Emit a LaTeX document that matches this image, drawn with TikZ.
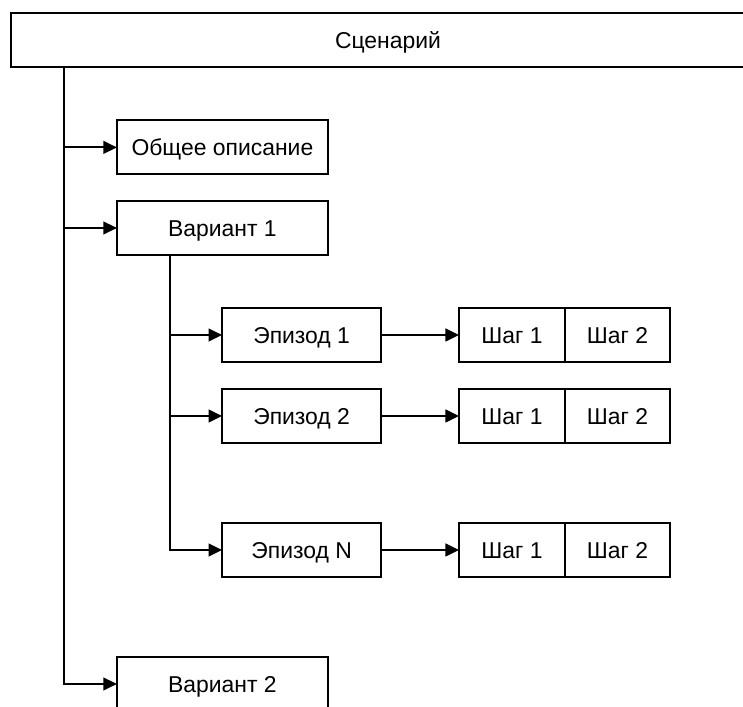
\documentclass[tikz,border=0pt]{standalone}
\usepackage{fontspec}
\setmainfont{Liberation Sans}
\usetikzlibrary{arrows.meta,positioning,calc}

\begin{document}
\begin{tikzpicture}[
    box/.style={draw,line width=0.5mm,minimum height=13.5mm,inner sep=0pt,outer sep=0pt,
                text height=11.5pt,text depth=0pt,font=\fontsize{16.3}{19}\selectfont},
    arr/.style={line width=0.5mm,-{Triangle[length=3.4mm,width=3.2mm]}}
  ]
  %\draw[color=gray,step=1mm, help lines,opacity=0.3] (0mm,0mm) grid (186mm,177mm); %help grids
  \useasboundingbox (0mm,0mm) rectangle (185.75mm,176.75mm);
  \clip (0mm,0mm) rectangle (185.75mm,176.75mm);
  \def\shag#1#2{
    \node[box,minimum width=26.5mm] (#2a) at ($(#1.center)+(52.6mm,0)$) {Шаг 1};
    \node[box,minimum width=26.25mm,right=0mm of #2a] (#2b) {Шаг 2};
    \draw[arr] (#1) -- (#2a);
  }
  \node[box,minimum width=188.5mm] (scen) at (97mm,166.75mm) {Сценарий};
  \node[box,minimum width=52.75mm] (desc) at (55.6mm,139.9mm) {Общее описание};
  \node[box,minimum width=52.75mm] (var1) at (55.6mm,119.75mm) {Вариант 1};
  \node[box,minimum width=52.75mm] (var2) at (55.6mm,5.75mm) {Вариант 2};
  \node[box,minimum width=39.75mm] (ep1) at (75.4mm,93mm) {Эпизод 1};
  \node[box,minimum width=39.75mm] (ep2) at (75.4mm,72.75mm) {Эпизод 2};
  \node[box,minimum width=39.75mm] (epN) at (75.4mm,39.25mm) {Эпизод N};
  \shag{ep1}{s1};
  \shag{ep2}{s2};
  \shag{epN}{sN};
  % main trunk
  \coordinate (t0) at ($(scen.south west)+(13.25mm,0)$);
  \draw[arr] (t0) |- (var2);
  \draw[arr] (t0 |- desc) -- (desc);
  \draw[arr] (t0 |- var1) -- (var1);
  % episodes of variant 1
  \coordinate (t1) at ($(var1.south west)+(13.25mm,0)$);
  \draw[arr] (t1) |- (epN);
  \draw[arr] (t1 |- ep1) -- (ep1);
  \draw[arr] (t1 |- ep2) -- (ep2);
\end{tikzpicture}
\end{document}
